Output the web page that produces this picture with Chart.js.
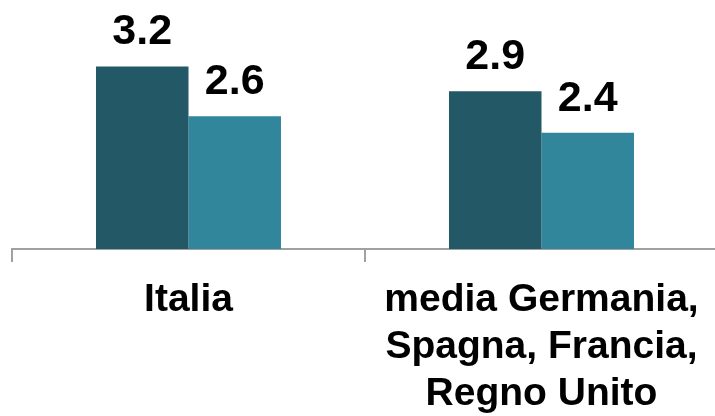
<!DOCTYPE html>
<html>
<head>
<meta charset="utf-8">
<script src="https://cdn.jsdelivr.net/npm/chart.js@4"></script>
<style>
  html, body { margin: 0; padding: 0; overflow: hidden; background: #fff; }
</style>
</head>
<body>
<canvas id="chart" width="720" height="416"></canvas>
<script>
const categories = [['Italia'], ['media Germania,', 'Spagna, Francia,', 'Regno Unito']]
const seriesA = [3.2, 2.9]
const seriesB = [2.6, 2.4]

// draws the value above each bar (no datalabels plugin available)
const valueLabels = {
  id: 'valueLabels',
  afterDatasetsDraw (chart) {
    const ctx = chart.ctx
    ctx.save()
    ctx.font = 'bold 43px "Liberation Sans", Arial, sans-serif'
    ctx.fillStyle = '#000'
    ctx.textAlign = 'center'
    ctx.textBaseline = 'alphabetic'
    chart.data.datasets.forEach((ds, i) => {
      chart.getDatasetMeta(i).data.forEach((bar, j) => {
        ctx.fillText(ds.data[j].toFixed(1), bar.x, bar.y - 22)
      })
    })
    ctx.restore()
  }
}

new Chart(document.getElementById('chart'), {
  type: 'bar',
  data: {
    labels: categories,
    datasets: [{
      data: seriesA,
      backgroundColor: '#235867'
    }, {
      data: seriesB,
      backgroundColor: '#32869c'
    }]
  },
  options: {
    responsive: false,
    animation: false,
    categoryPercentage: 0.524,
    barPercentage: 1,
    layout: { padding: { left: 12, right: 2, top: 0, bottom: 0 } },
    plugins: {
      legend: { display: false },
      tooltip: { enabled: false }
    },
    scales: {
      y: {
        display: false,
        min: 1,
        max: 4
      },
      x: {
        afterFit: s => { s.height = 167 },
        border: { color: '#a0a0a0', width: 2 },
        grid: {
          offset: true,
          drawOnChartArea: false,
          drawTicks: true,
          tickLength: 13,
          color: '#a0a0a0',
          lineWidth: 2
        },
        ticks: {
          padding: 15,
          color: '#000',
          font: { family: '"Liberation Sans", Arial, sans-serif', size: 39, weight: 'bold', lineHeight: 1.2 }
        }
      }
    }
  },
  plugins: [valueLabels]
})
</script>
</body>
</html>
